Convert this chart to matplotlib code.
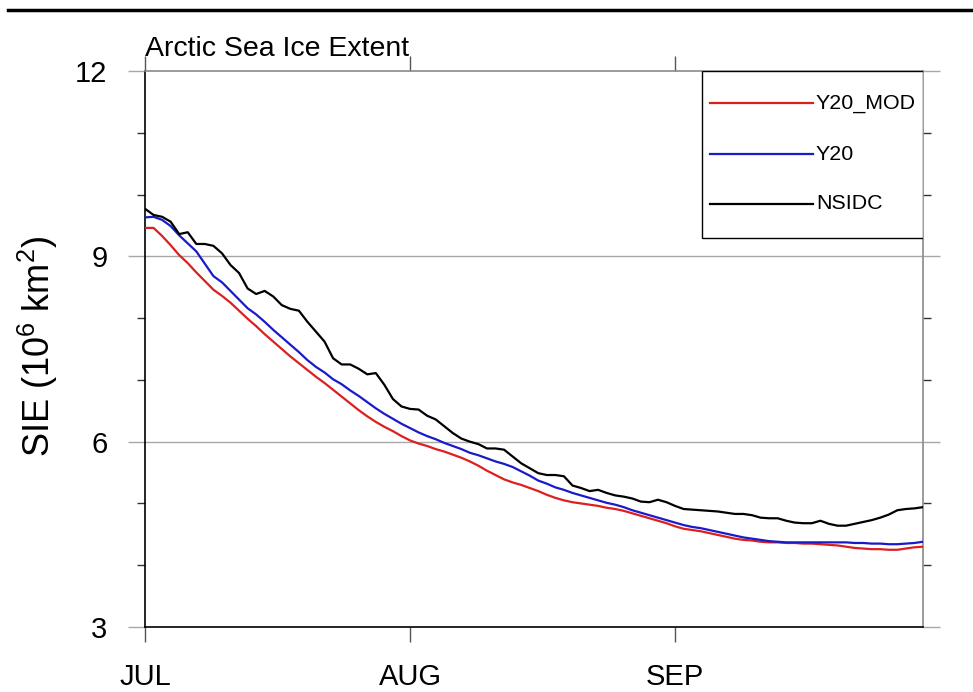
import numpy as np
import matplotlib
matplotlib.use("Agg")
import matplotlib.pyplot as plt
from matplotlib.lines import Line2D
from matplotlib.patches import Rectangle
from matplotlib.ticker import FixedLocator, MultipleLocator

plt.rcParams["font.family"] = ["Liberation Sans", "DejaVu Sans"]
plt.rcParams["mathtext.fontset"] = "custom"
plt.rcParams["mathtext.rm"] = "Liberation Sans"
plt.rcParams["mathtext.it"] = "Liberation Sans:italic"
plt.rcParams["mathtext.default"] = "regular"

# Daily Arctic sea ice extent, 1 Jul - 30 Sep (10^6 km^2)
y20_mod = [
    9.46, 9.46, 9.33, 9.18, 9.02, 8.89, 8.74, 8.60, 8.46, 8.36,
    8.25, 8.12, 7.99, 7.87, 7.74, 7.62, 7.50, 7.38, 7.27, 7.16,
    7.05, 6.95, 6.84, 6.73, 6.62, 6.51, 6.41, 6.32, 6.24, 6.17,
    6.09, 6.02, 5.97, 5.93, 5.88, 5.84, 5.79, 5.74, 5.68, 5.61,
    5.53, 5.46, 5.39, 5.34, 5.30, 5.25, 5.20, 5.14, 5.09, 5.05,
    5.02, 5.00, 4.98, 4.96, 4.93, 4.91, 4.88, 4.84, 4.80, 4.76,
    4.72, 4.68, 4.63, 4.59, 4.57, 4.55, 4.52, 4.49, 4.46, 4.43,
    4.41, 4.40, 4.38, 4.37, 4.37, 4.36, 4.36, 4.35, 4.35, 4.34,
    4.33, 4.32, 4.30, 4.28, 4.27, 4.26, 4.26, 4.25, 4.25, 4.27,
    4.29, 4.30,
]
y20 = [
    9.63, 9.64, 9.59, 9.49, 9.34, 9.21, 9.08, 8.88, 8.68, 8.58,
    8.44, 8.30, 8.16, 8.06, 7.94, 7.81, 7.69, 7.57, 7.45, 7.32,
    7.21, 7.12, 7.01, 6.93, 6.83, 6.74, 6.64, 6.54, 6.45, 6.37,
    6.29, 6.22, 6.15, 6.09, 6.04, 5.98, 5.93, 5.88, 5.82, 5.78,
    5.73, 5.68, 5.64, 5.59, 5.52, 5.45, 5.37, 5.32, 5.26, 5.22,
    5.17, 5.13, 5.09, 5.05, 5.01, 4.98, 4.94, 4.89, 4.85, 4.81,
    4.77, 4.73, 4.69, 4.65, 4.62, 4.60, 4.57, 4.54, 4.51, 4.48,
    4.45, 4.43, 4.41, 4.39, 4.38, 4.37, 4.37, 4.37, 4.37, 4.37,
    4.37, 4.37, 4.37, 4.36, 4.36, 4.35, 4.35, 4.34, 4.34, 4.35,
    4.36, 4.38,
]
nsidc = [
    9.77, 9.67, 9.64, 9.56, 9.36, 9.39, 9.20, 9.20, 9.17, 9.05,
    8.86, 8.73, 8.48, 8.39, 8.44, 8.35, 8.21, 8.15, 8.12, 7.94,
    7.78, 7.62, 7.35, 7.25, 7.25, 7.18, 7.09, 7.11, 6.92, 6.69,
    6.57, 6.53, 6.52, 6.42, 6.36, 6.25, 6.14, 6.05, 6.00, 5.96,
    5.89, 5.89, 5.87, 5.76, 5.65, 5.57, 5.49, 5.46, 5.46, 5.44,
    5.29, 5.25, 5.20, 5.22, 5.17, 5.13, 5.11, 5.08, 5.03, 5.02,
    5.06, 5.02, 4.96, 4.91, 4.90, 4.89, 4.88, 4.87, 4.85, 4.83,
    4.83, 4.81, 4.77, 4.76, 4.76, 4.72, 4.69, 4.68, 4.68, 4.72,
    4.67, 4.64, 4.64, 4.67, 4.70, 4.73, 4.77, 4.82, 4.89, 4.91,
    4.92, 4.94,
]
series_labels = ["Y20_MOD", "Y20", "NSIDC"]
month_starts = [0, 31, 62]
month_labels = ["JUL", "AUG", "SEP"]
y_major = [3, 6, 9, 12]

RED = "#dc1f1f"
BLUE = "#1a1ac8"
BLACK = "#000000"
GRID = "#a8a8a8"
FRAME_GRAY = "#8a8a8a"

W, H = 973, 692
fig = plt.figure(figsize=(W / 100, H / 100), dpi=100)
L, R, T, B = 145, 923, 71, 627
ax = fig.add_axes([L / W, (H - B) / H, (R - L) / W, (B - T) / H])

days = np.arange(len(nsidc))
ax.plot(days, y20_mod, color=RED, lw=1.6, zorder=3, solid_joinstyle="round")
ax.plot(days, y20, color=BLUE, lw=1.6, zorder=3, solid_joinstyle="round")
ax.plot(days, nsidc, color=BLACK, lw=1.6, zorder=3, solid_joinstyle="round")

ax.set_xlim(0, len(nsidc) - 1)
ax.set_ylim(3, 12)

# horizontal grid at the major y ticks
for v in y_major[1:-1]:
    ax.axhline(v, color=GRID, lw=1.0, zorder=1)

# spines
ax.spines["left"].set_color("black")
ax.spines["bottom"].set_color("black")
ax.spines["top"].set_color(FRAME_GRAY)
ax.spines["right"].set_color(FRAME_GRAY)
for s in ax.spines.values():
    s.set_linewidth(1.2)

# ticks
ax.xaxis.set_major_locator(FixedLocator(month_starts))
ax.set_xticklabels(month_labels)
ax.yaxis.set_major_locator(FixedLocator(y_major))
ax.yaxis.set_minor_locator(MultipleLocator(1))
ax.tick_params(axis="x", which="major", direction="out", length=11, width=1.0,
               color="#555555", top=True, bottom=True, labelsize=21, pad=15)
ax.tick_params(axis="y", which="major", direction="out", length=12, width=1.0,
               color=GRID, left=True, right=True, labelsize=21, pad=15)
ax.tick_params(axis="y", which="minor", direction="out", length=6, width=1.0,
               color="#333333", left=True, right=True)

# legend box in the upper right corner
box = Rectangle((0.716, 0.6996), 0.284, 0.3004, transform=ax.transAxes,
                facecolor="white", edgecolor="black", lw=1.0, zorder=4)
ax.add_patch(box)
rows_y = [0.9424, 0.8507, 0.7608]
for label, color, yy in zip(series_labels, [RED, BLUE, BLACK], rows_y):
    ax.add_line(Line2D([0.726, 0.8586], [yy, yy], transform=ax.transAxes,
                       color=color, lw=1.6, zorder=5))
    ax.text(0.8625, yy, label, transform=ax.transAxes, ha="left",
            va="center", fontsize=15.4, zorder=5)

# title and axis label
fig.text(L / W, (H - 56) / H, "Arctic Sea Ice Extent", ha="left",
         va="baseline", fontsize=20.5)
fig.text(38 / W, (H - 346) / H, r"SIE (10$^{6}$ km$^{2}$)", rotation=90,
         ha="center", va="center", fontsize=26)

# rule across the top of the page
fig.add_artist(Line2D([8 / W, 1.0], [(H - 10) / H, (H - 10) / H],
                      transform=fig.transFigure, color="black", lw=2.5))

fig.savefig("out.png", dpi=100)
